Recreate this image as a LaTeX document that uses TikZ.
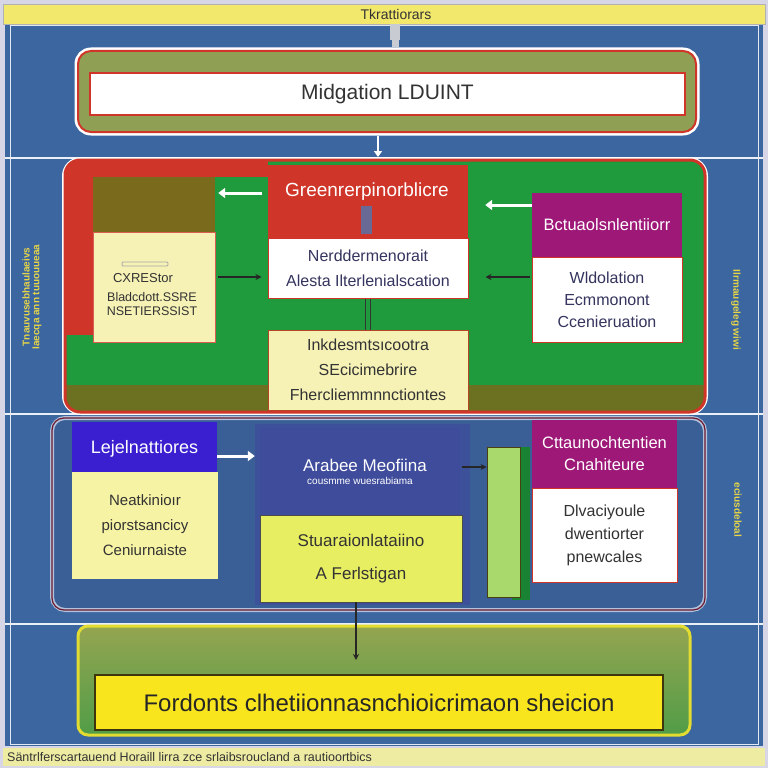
\documentclass[tikz,border=0pt]{standalone}
\usepackage{fontspec}
\setmainfont{Liberation Sans}
\usetikzlibrary{arrows.meta}
\definecolor{bgblue}{HTML}{3B66A0}
\definecolor{frame}{HTML}{D6D6E6}
\definecolor{bandyel}{HTML}{F2E86C}
\definecolor{olivebox}{HTML}{8FA055}
\definecolor{redc}{HTML}{CF3528}
\definecolor{greenc}{HTML}{1F9A3C}
\definecolor{olivec}{HTML}{7A6A1C}
\definecolor{paleyel}{HTML}{F6F2B6}
\definecolor{purplec}{HTML}{9E1878}
\definecolor{navytxt}{HTML}{34345E}
\definecolor{darktxt}{HTML}{333333}
\definecolor{lowblue}{HTML}{3A5E96}
\definecolor{hdrblue}{HTML}{3A1FD0}
\definecolor{midblue}{HTML}{3F4C9C}
\definecolor{limey}{HTML}{E8EE62}
\definecolor{lightgreen}{HTML}{A9D96C}
\definecolor{boty}{HTML}{F8E51E}
\definecolor{sideyel}{HTML}{E6D448}
\definecolor{tabgray}{HTML}{C8CCD2}
\definecolor{footyel}{HTML}{EEEBA2}
\tikzset{
  boxn/.style={rectangle, inner sep=0pt, anchor=center},
  hdrtext/.style={text=white, font=\fontsize{14}{16}\selectfont},
  bodytext/.style={font=\fontsize{14}{19}\selectfont, align=center},
  warrow/.style={draw=white, line width=3pt, -{Triangle[length=7pt,width=10pt]}},
  darrow/.style={draw=black!85, line width=1.2pt, -{Stealth[length=6pt,width=6pt]}},
  sidetext/.style={text=sideyel, font=\fontsize{10}{11}\selectfont\bfseries}
}
\begin{document}
\begin{tikzpicture}[x=1pt,y=-1pt]
\useasboundingbox (0,0) rectangle (768,768);
% background
\fill[frame] (0,0) rectangle (768,768);
\fill[bgblue] (5,24) rectangle (763,746);
\draw[white!85!bgblue, line width=1pt] (10,26) rectangle (758,744);
\fill[bandyel] (3,4) rectangle (765,24);
\draw[gray!60, line width=0.6pt] (3,4) rectangle (765,24);
\node[boxn, font=\fontsize{14}{15}\selectfont, text=darktxt] (title) at (396,14) {Tkrattiorars};
% divider lines
\draw[white!90!bgblue, line width=1.5pt] (5,158) -- (763,158);
\draw[white!90!bgblue, line width=1.5pt] (5,414) -- (763,414);
\draw[white!90!bgblue, line width=1.5pt] (5,624) -- (763,624);
\fill[footyel] (3,748) rectangle (765,766);
\node[boxn, anchor=west, font=\fontsize{12.5}{13}\selectfont, text=darktxt] (footer) at (7,757) {Säntrlferscartauend Horaill lirra zce srlaibsroucland a rautioortbics};

% top section
\node[boxn, draw=white, line width=5pt, rounded corners=14pt, minimum width=620pt, minimum height=83pt] (topouter) at (387,91.5) {};
\node[boxn, fill=olivebox, draw=redc, line width=2pt, rounded corners=13pt, minimum width=618pt, minimum height=81pt] (topfill) at (387,91.5) {};
\node[boxn, fill=white, draw=redc, line width=2pt, minimum width=595pt, minimum height=42pt, font=\fontsize{21}{22}\selectfont, text=darktxt] (topinner) at (387.5,94) {Midgation LDUINT};
\coordinate (tabtop) at (395,24);
\draw[tabgray, line width=10pt] (tabtop) -- (395,40);
\draw[tabgray, line width=7pt] (395,40) -- (tabtop |- topouter.north);

% middle section
\node[boxn, draw=white, line width=6pt, rounded corners=16pt, minimum width=640pt, minimum height=252pt] (midsec) at (385,286) {};
\begin{scope}
\clip[rounded corners=15pt] (65,160) rectangle (705,412);
\fill[greenc] (65,160) rectangle (705,412);
\fill[redc] (65,160) rectangle (93,335);
\fill[redc] (65,160) rectangle (268,177);
\fill[olivec!85!greenc] (65,385) rectangle (705,412);
\end{scope}
\draw[redc, line width=3pt, rounded corners=15pt] (65,160) rectangle (705,412);
\draw[->, white, line width=2pt, -{Triangle[length=6pt,width=8pt]}] ([xshift=-9pt]topouter.south) -- ([xshift=-9pt]topouter.south |- midsec.north);

\node[boxn, fill=olivec, minimum width=122pt, minimum height=55pt] (lhdr) at (154,204.5) {};
\node[boxn, fill=paleyel, draw=redc!80, line width=0.8pt, minimum width=122pt, minimum height=110pt] (lbody) at (154,287) {};
\draw[gray!70, line width=0.8pt, rounded corners=1pt] (122,262) rectangle (168,266);
\node[boxn, font=\fontsize{13}{15}\selectfont, text=darktxt] (ltxt1) at (143,278) {CXREStor};
\node[boxn, font=\fontsize{12.5}{14}\selectfont, text=darktxt, align=center] (ltxt2) at (152,304) {Bladcdott.SSRE\\NSETIERSSIST};

\node[boxn, fill=redc, minimum width=200pt, minimum height=73pt] (chdr) at (368,201.5) {};
\node[hdrtext, font=\fontsize{19}{21}\selectfont] (chdrt) at (367,192) {Greenrerpinorblicre};
\fill[gray!55!blue!40!gray] (361,206) rectangle (372,234);
\node[boxn, fill=white, draw=redc, line width=1pt, minimum width=200pt, minimum height=60pt, bodytext, text=navytxt, font=\fontsize{16}{25}\selectfont] (cbody) at (368,268) {Nerddermenorait\\Alesta Ilterlenialscation};
\node[boxn, fill=paleyel, draw=redc!70!olivec, line width=1pt, minimum width=200pt, minimum height=80pt, bodytext, text=darktxt, font=\fontsize{16}{25}\selectfont] (cyel) at (368,370) {Inkdesmtsıcootra\\SEcicimebrire\\Fhercliemmnnctiontes};
\draw[black!80, double=greenc, double distance=4pt, line width=1.2pt] (cbody.south) -- (cyel.north);

\node[boxn, fill=purplec, minimum width=150pt, minimum height=64pt, hdrtext, font=\fontsize{16.5}{18}\selectfont] (rhdr) at (607,225) {Bctuaolsnlentiiorr};
\node[boxn, fill=white, draw=redc, line width=1pt, minimum width=150pt, minimum height=85pt, bodytext, text=navytxt, font=\fontsize{16}{22}\selectfont] (rbody) at (607,299.5) {Wldolation\\Ecmmonont\\Ccenieruation};

\draw[warrow, shorten <=6pt, shorten >=3pt] ([yshift=8.5pt]chdr.west) -- ([yshift=11.5pt]lhdr.east);
\draw[warrow, shorten >=17pt] ([yshift=20pt]rhdr.west) -- ([yshift=-3.5pt]chdr.east);
\draw[darrow, shorten <=3pt, shorten >=6pt] ([yshift=10pt]lbody.east) -- ([yshift=-9pt]cbody.west);
\draw[darrow, shorten <=2pt, shorten >=17pt] ([yshift=22.5pt]rbody.west) -- ([yshift=-9pt]cbody.east);

% lower section
\node[boxn, fill=lowblue, draw=white!60!bgblue, line width=4pt, rounded corners=13pt, minimum width=653pt, minimum height=192pt] (lowsec) at (378.5,514) {};
\draw[redc!50!purplec!60!black, line width=1.2pt, rounded corners=12pt] (52,418) rectangle (705,610);
\fill[midblue!70!lowblue] (255,424) rectangle (470,605);

\node[boxn, fill=hdrblue, minimum width=145pt, minimum height=53pt, hdrtext, font=\fontsize{18}{20}\selectfont] (lhdr2) at (144.5,448.5) {Lejelnattiores};
\node[boxn, fill=paleyel!90!yellow, minimum width=146pt, minimum height=107pt, bodytext, text=darktxt, font=\fontsize{15}{25}\selectfont] (lbody2) at (145,525.5) {Neatkinioır\\piorstsancicy\\Ceniurnaiste};

\node[boxn, fill=midblue, minimum width=200pt, minimum height=87pt] (chdr2) at (360,471.5) {};
\node[hdrtext, font=\fontsize{17}{19}\selectfont] (chdr2t) at (365,465) {Arabee Meofiina};
\node[text=white, font=\fontsize{10}{11}\selectfont] (chdr2s) at (360,481) {cousmme wuesrabiama};
\node[boxn, fill=limey, draw=black!70, line width=0.8pt, minimum width=202pt, minimum height=87pt, bodytext, text=darktxt, font=\fontsize{17}{33}\selectfont] (cbody2) at (361,558.5) {Stuaraionlataiino\\A Ferlstigan};

\fill[greenc!85!black] (512,447) -- (530,447) -- (530,600) -- (512,600) -- cycle;
\node[boxn, fill=lightgreen, draw=olivec!60!black, line width=0.8pt, minimum width=33pt, minimum height=150pt] (gbar) at (503.5,522) {};

\node[boxn, fill=purplec, minimum width=145pt, minimum height=68pt, hdrtext, font=\fontsize{16.5}{22}\selectfont, align=center] (rhdr2) at (604.5,454) {Cttaunochtentien\\Cnahiteure};
\node[boxn, fill=white, draw=redc, line width=1pt, minimum width=145pt, minimum height=94pt, bodytext, text=darktxt, font=\fontsize{16}{23}\selectfont] (rbody2) at (604.5,535) {Dlvaciyoule\\dwentiorter\\pnewcales};

\draw[warrow, shorten >=5pt] ([yshift=-7.5pt]lhdr2.east) -- ([yshift=15.5pt]chdr2.west);
\draw[darrow, shorten <=2pt] ([yshift=4.5pt]chdr2.east) -- ([yshift=55pt]gbar.west);

% bottom section
\node[boxn, top color=olivebox!95!yellow, bottom color=greenc!55!olivebox, draw=yellow!70!olivebox, line width=3pt, rounded corners=10pt, minimum width=612pt, minimum height=109pt] (botsec) at (384,680.5) {};
\node[boxn, fill=boty, draw=olivec!50!black, line width=2pt, minimum width=568pt, minimum height=55pt, font=\fontsize{24}{26}\selectfont, text=black!85] (botin) at (379,702.5) {Fordonts clhetiionnasnchioicrimaon sheicion};
\draw[darrow, shorten >=14pt] ([xshift=-5pt]cbody2.south) -- ([xshift=-23pt]botin.north);

% side texts
\node[sidetext, rotate=90] (sl1) at (26,297) {Tnauvusebhaulaeivs};
\node[sidetext, rotate=90] (sl2) at (37,297) {Iaecqa ann tuuouueaa};
\node[sidetext, rotate=-90] (sr1) at (736,310) {Ilrmaugeleg wiwi};
\node[sidetext, rotate=-90] (sr2) at (738,510) {eciusdeloal};
\end{tikzpicture}
\end{document}
